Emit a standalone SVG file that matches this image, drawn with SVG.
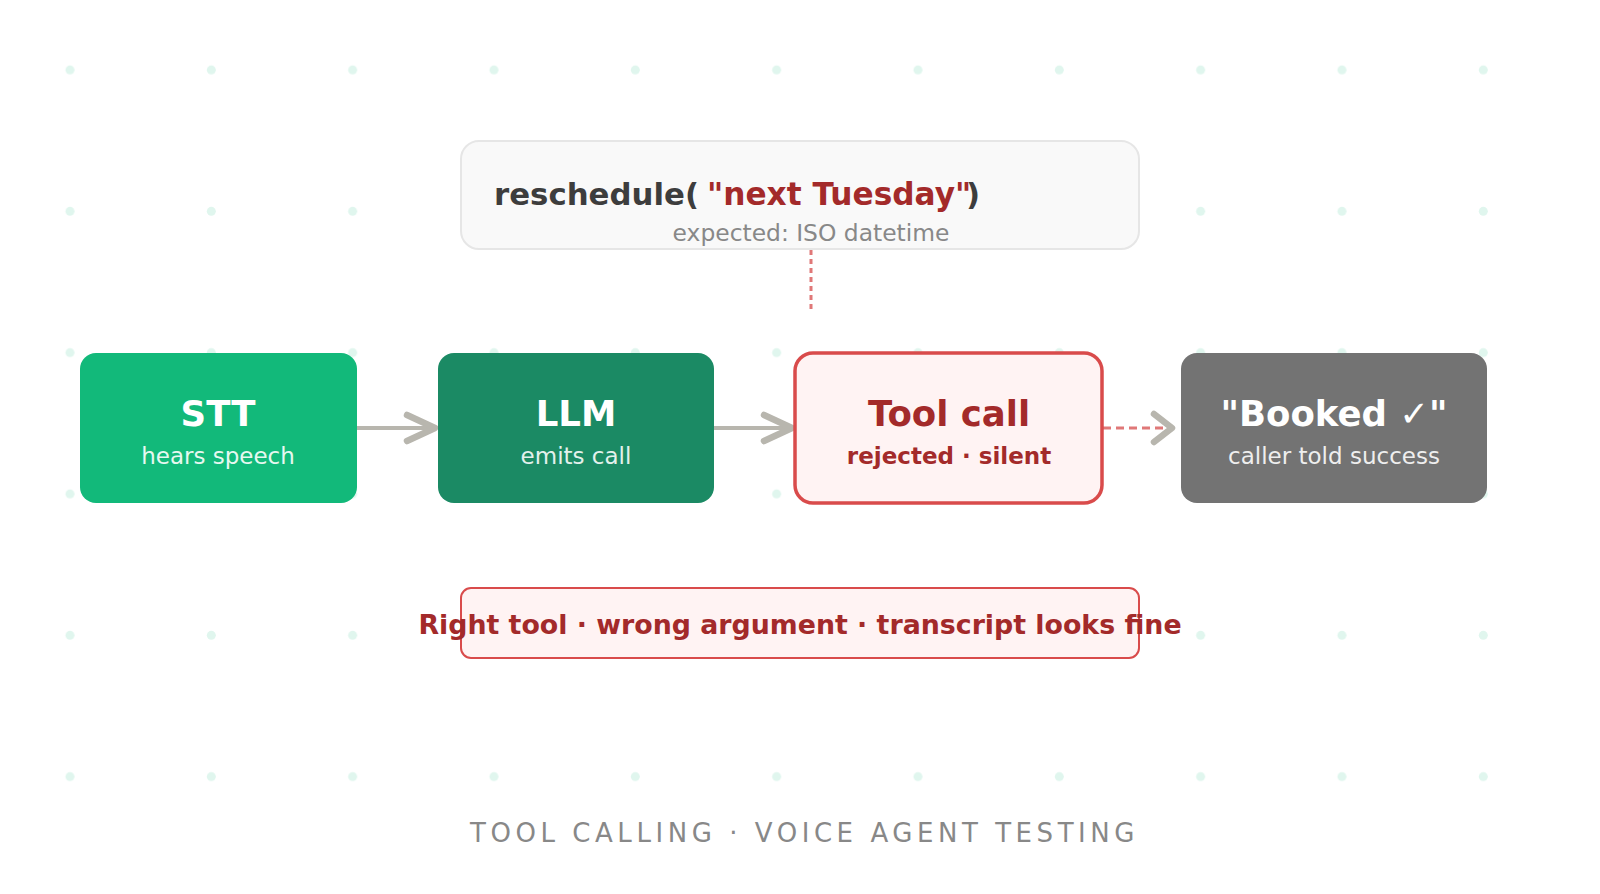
<svg xmlns="http://www.w3.org/2000/svg" width="1600" height="894" viewBox="0 0 1600 894">
  <defs>
    <pattern id="dots" x="0" y="0" width="141.33" height="141.33" patternUnits="userSpaceOnUse">
      <circle cx="70" cy="70" r="4.5" fill="#e0f6ee"/>
    </pattern>
    <marker id="chev" viewBox="0 0 20 20" refX="18" refY="10" markerWidth="20" markerHeight="20" markerUnits="userSpaceOnUse" orient="auto" overflow="visible">
      <path d="M -10 -3 L 18 10 L -10 23" fill="none" stroke="#b8b6ae" stroke-width="6.5" stroke-linecap="round" stroke-linejoin="round"/>
    </marker>
    <style>
      text { font-family: "DejaVu Sans", sans-serif; }
      .title { font-weight: bold; font-size: 35.5px; text-anchor: middle; }
      .sub { font-size: 23px; text-anchor: middle; }
      .arrow { stroke: #b8b6ae; stroke-width: 4; fill: none; }
      .dash { stroke: #e07878; stroke-width: 3; fill: none; stroke-dasharray: 8 5; }
    </style>
  </defs>
  <rect width="1600" height="894" fill="#ffffff"/>
  <rect width="1600" height="894" fill="url(#dots)"/>

  <g id="signature-card">
    <rect x="461" y="141" width="678" height="108" rx="18" fill="#f9f9f9" stroke="#e6e6e6" stroke-width="2"/>
    <text x="494" y="205" font-size="30.8" font-weight="bold" fill="#3d3d3d">reschedule( </text>
    <text x="707" y="205" font-size="31.2" font-weight="bold" fill="#a32a2a">"next Tuesday"</text>
    <text x="966" y="205" font-size="30.8" font-weight="bold" fill="#3d3d3d">)</text>
    <text x="811" y="241" font-size="23.4" fill="#888888" text-anchor="middle">expected: ISO datetime</text>
  </g>

  <g id="connectors">
    <line x1="811" y1="250" x2="811" y2="310" stroke="#e07878" stroke-width="3" stroke-dasharray="5 4"/>
    <line class="arrow" x1="357" y1="428" x2="435" y2="428" marker-end="url(#chev)"/>
    <line class="arrow" x1="714" y1="428" x2="792" y2="428" marker-end="url(#chev)"/>
    <line class="dash" x1="1103" y1="428" x2="1172" y2="428"/>
    <path d="M 1154 414 L 1172 428 L 1154 442" fill="none" stroke="#b8b6ae" stroke-width="6.5" stroke-linecap="round" stroke-linejoin="round"/>
  </g>

  <g id="node-stt">
    <rect x="80" y="353" width="277" height="150" rx="16" fill="#12b97a"/>
    <text class="title" x="218" y="426" fill="#ffffff">STT</text>
    <text class="sub" x="218" y="464" fill="#e6f8f0">hears speech</text>
  </g>
  <g id="node-llm">
    <rect x="438" y="353" width="276" height="150" rx="16" fill="#1b8a64"/>
    <text class="title" x="576" y="426" fill="#ffffff">LLM</text>
    <text class="sub" x="576" y="464" fill="#e3f1ec">emits call</text>
  </g>
  <g id="node-tool">
    <rect x="795" y="353" width="307" height="150" rx="18" fill="#fff3f3" stroke="#d94b4b" stroke-width="3.5"/>
    <text class="title" x="949" y="426" fill="#a32a2a">Tool call</text>
    <text class="sub" x="949" y="464" fill="#a32a2a" font-weight="bold" font-size="24">rejected · silent</text>
  </g>
  <g id="node-booked">
    <rect x="1181" y="353" width="306" height="150" rx="16" fill="#737373"/>
    <text class="title" x="1334" y="426" fill="#ffffff">"Booked ✓"</text>
    <text class="sub" x="1334" y="464" fill="#eeeeee">caller told success</text>
  </g>

  <g id="callout">
    <rect x="461" y="588" width="678" height="70" rx="10" fill="#fff3f3" stroke="#d94b4b" stroke-width="2"/>
    <text x="800" y="634" font-size="26.8" font-weight="bold" fill="#a32a2a" text-anchor="middle">Right tool · wrong argument · transcript looks fine</text>
  </g>

  <text x="804.5" y="842" font-size="26" fill="#888888" text-anchor="middle" letter-spacing="4.55">TOOL CALLING · VOICE AGENT TESTING</text>
</svg>
